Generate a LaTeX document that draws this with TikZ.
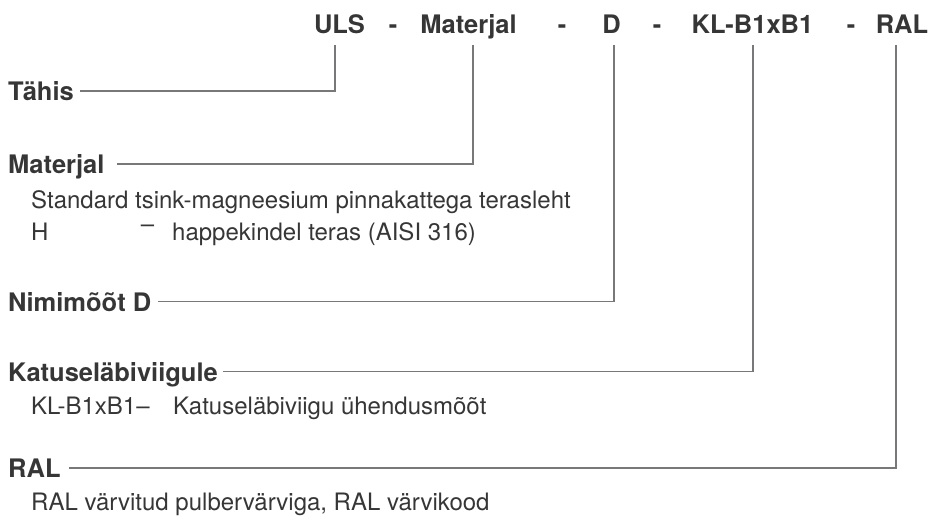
\documentclass[tikz,border=0pt]{standalone}
\usepackage{fontspec}
\setmainfont{TeX Gyre Heros}
\definecolor{txt}{HTML}{363636}
\definecolor{ln}{HTML}{78787A}
\begin{document}
\begin{tikzpicture}[x=1pt,y=-1pt,
  hdr/.style={font=\fontsize{25.5}{30}\selectfont\bfseries, text=txt, inner sep=0pt, anchor=base},
  lab/.style={font=\fontsize{25.5}{30}\selectfont\bfseries, text=txt, inner sep=0pt, anchor=base west, text height=19pt, text depth=0pt},
  desc/.style={font=\fontsize{24}{28}\selectfont, text=txt, inner sep=0pt, anchor=base west},
  conn/.style={draw=ln, line width=1.5pt}]
\useasboundingbox (0,0) rectangle (931,516);

% header
\node[hdr] (uls)  at (339.5,34) {ULS};
\node[hdr] (d1)   at (393,34) {-};
\node[hdr] (mat)  at (468.5,34) {Materjal};
\node[hdr] (d2)   at (562,34) {-};
\node[hdr] (dd)   at (611.5,34) {D};
\node[hdr] (d3)   at (657,34) {-};
\node[hdr] (kl)   at (752.5,34) {KL-B1xB1};
\node[hdr] (d4)   at (851,34) {-};
\node[hdr] (ral)  at (902,34) {RAL};

% tops of the connectors
\coordinate (tULS) at (335,45);
\coordinate (tMAT) at (473,45);
\coordinate (tD)   at (614,45);
\coordinate (tKL)  at (753,45);
\coordinate (tRAL) at (896,45);

% labels
\node[lab] (tahis) at (8,100.7) {Tähis};
\node[lab] (lmat)  at (8,173.5) {Materjal};
\node[lab] (lnim)  at (8,311) {Nimimõõt D};
\node[lab] (lkat)  at (8,381) {Katuseläbiviigule};
\node[lab] (lral)  at (8,477.7) {RAL};

% descriptions
\node[desc] (std)  at (31,208.5) {Standard tsink-magneesium pinnakattega terasleht};
\node[desc] (hh)   at (31,240) {H};
\node[desc, anchor=base] (hd) at (147.5,240) {\raisebox{8pt}{–}};
\node[desc] (hap)  at (172,240) {happekindel teras (AISI 316)};
\node[desc] (klb)  at (31,414) {KL-B1xB1–};
\node[desc] (klt)  at (173,414) {Katuseläbiviigu ühendusmõõt};
\node[desc] (rald) at (31,510) {RAL värvitud pulbervärviga, RAL värvikood};

% connectors
\draw[conn] (tULS) |- ([xshift=6pt]tahis.east);
\draw[conn] (tMAT) |- ([xshift=12pt]lmat.east);
\draw[conn] (tD)   |- ([xshift=7pt]lnim.east);
\draw[conn] (tKL)  |- ([xshift=5pt]lkat.east);
\draw[conn] (tRAL) |- ([xshift=8pt]lral.east);
\end{tikzpicture}
\end{document}
